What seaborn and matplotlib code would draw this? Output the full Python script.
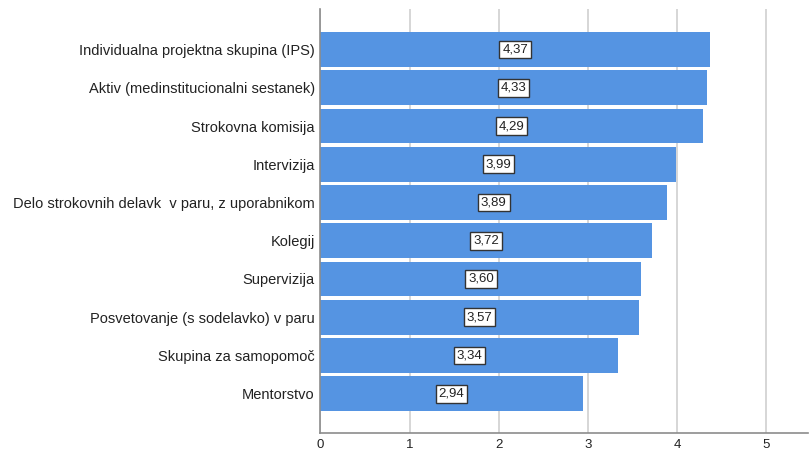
import matplotlib
matplotlib.use("Agg")
import matplotlib.pyplot as plt
import seaborn as sns
import pandas as pd

categories = [
    "Individualna projektna skupina (IPS)",
    "Aktiv (medinstitucionalni sestanek)",
    "Strokovna komisija",
    "Intervizija",
    "Delo strokovnih delavk  v paru, z uporabnikom",
    "Kolegij",
    "Supervizija",
    "Posvetovanje (s sodelavko) v paru",
    "Skupina za samopomoč",
    "Mentorstvo",
]
values = [4.37, 4.33, 4.29, 3.99, 3.89, 3.72, 3.60, 3.57, 3.34, 2.94]
xticks = [0, 1, 2, 3, 4, 5]

df = pd.DataFrame({"cat": categories, "val": values})

sns.set_style("white")
plt.rcParams["font.family"] = ["Liberation Sans", "DejaVu Sans"]

fig = plt.figure(figsize=(8.09, 4.53), dpi=100)
ax = fig.add_axes([0.396, 0.044, 0.603, 0.936])

ax.set_axisbelow(True)
ax.grid(axis="x", color="#d6d6d6", linewidth=1.4)

sns.barplot(data=df, x="val", y="cat", orient="h", color="#5594e2",
            saturation=1, width=0.91, ax=ax, linewidth=0)

for i, v in enumerate(values):
    ax.text(v / 2, i, f"{v:.2f}".replace(".", ","), ha="center", va="center",
            fontsize=9.5, color="#222222",
            bbox=dict(boxstyle="square,pad=0.22", fc="white", ec="#333333", lw=1))

ax.set_xlim(0, 5.47)
ax.set_ylim(9 + 1.03, -1.06)
ax.set_xticks(xticks)
ax.set_xticklabels([str(t) for t in xticks])
ax.set_xlabel("")
ax.set_ylabel("")
ax.tick_params(axis="y", length=0, labelsize=10.5, colors="#222222", pad=4)
ax.tick_params(axis="x", length=0, labelsize=9.5, colors="#222222", pad=4)

for s in ["top", "right"]:
    ax.spines[s].set_visible(False)
for s in ["left", "bottom"]:
    ax.spines[s].set_color("#8c8c8c")
    ax.spines[s].set_linewidth(1.2)

fig.savefig("out.png", dpi=100)
